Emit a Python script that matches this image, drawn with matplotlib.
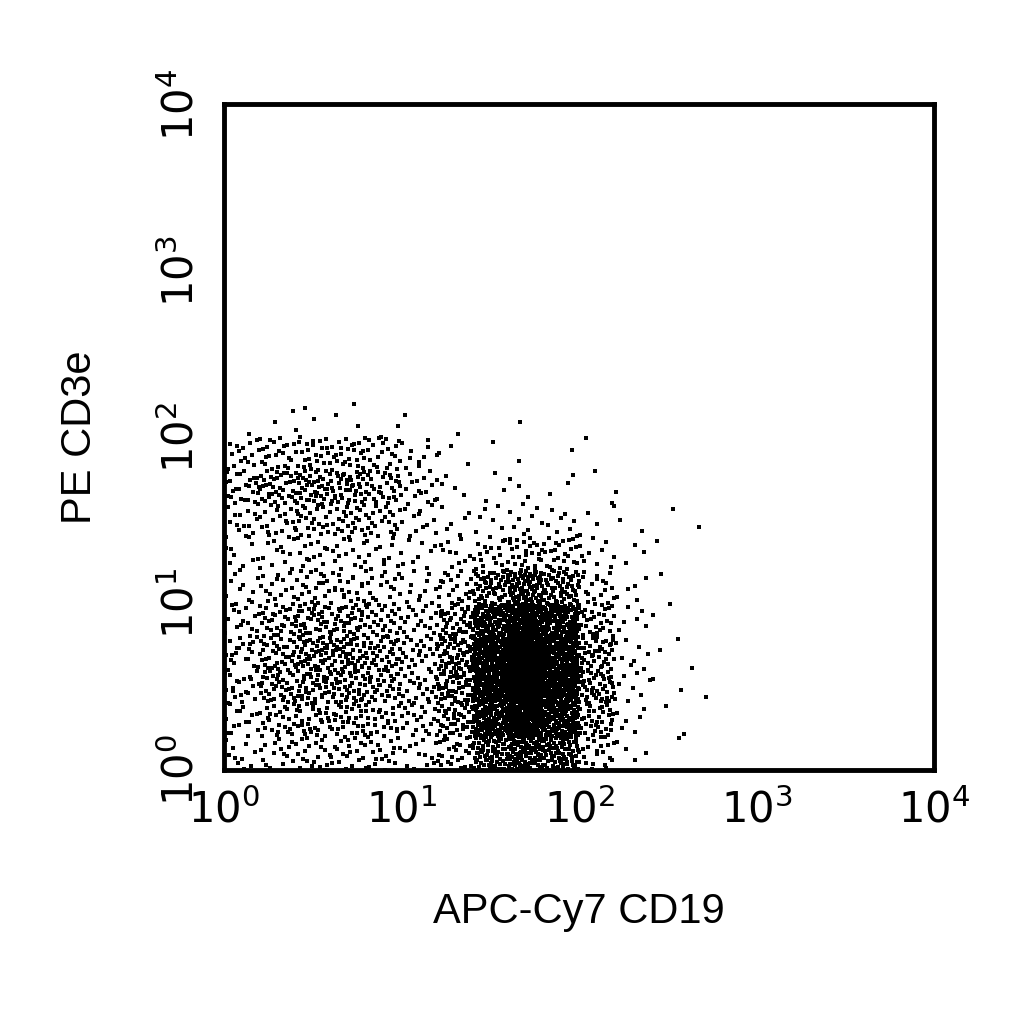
import numpy as np
import matplotlib
matplotlib.use("Agg")
import matplotlib.pyplot as plt

plt.rcParams['font.family'] = ['Liberation Sans', 'DejaVu Sans']

# Event counts per 0.2-decade cell
# rows: log10(PE CD3e) bins from 0.0 upward; columns: log10(APC-Cy7 CD19) bins from 0.0 to 2.8
bin_width = 0.2
counts = [
    [10, 15, 20, 20, 18, 12, 25, 70, 110, 70, 20, 4, 1, 0],
    [15, 25, 30, 30, 25, 18, 40, 120, 200, 130, 35, 6, 2, 0],
    [20, 35, 40, 40, 35, 22, 50, 150, 250, 160, 45, 8, 2, 1],
    [20, 35, 45, 45, 35, 22, 50, 150, 240, 150, 40, 8, 2, 1],
    [15, 30, 35, 35, 28, 18, 40, 110, 170, 110, 30, 6, 2, 0],
    [10, 15, 20, 20, 15, 12, 20, 50, 80, 55, 18, 5, 1, 0],
    [10, 12, 14, 14, 12, 8, 10, 18, 28, 22, 10, 3, 1, 0],
    [15, 20, 25, 25, 20, 12, 6, 6, 9, 8, 4, 2, 1, 1],
    [25, 35, 40, 40, 30, 15, 5, 3, 3, 3, 2, 1, 0, 0],
    [15, 22, 25, 25, 20, 10, 3, 1, 1, 1, 1, 0, 0, 0],
    [1, 2, 3, 3, 2, 1, 1, 0, 1, 0, 0, 0, 0, 0],
]
tick_labels = [r'$10^0$', r'$10^1$', r'$10^2$', r'$10^3$', r'$10^4$']

def halton(i, b):
    f, r = 1.0, 0.0
    while i > 0:
        f /= b
        r += f * (i % b)
        i //= b
    return r

xs, ys = [], []
k = 1
for r, row in enumerate(counts):
    for c, n in enumerate(row):
        for _ in range(n):
            xs.append((c + halton(k, 2)) * bin_width)
            ys.append((r + halton(k, 3)) * bin_width)
            k += 1
xs = 10 ** np.array(xs)
ys = 10 ** np.array(ys)

fig = plt.figure(figsize=(10.24, 10.24), dpi=100)
ax = fig.add_axes([0.219, 0.248, 0.693, 0.650])
ax.scatter(xs, ys, s=5.5, marker='s', color='black', linewidths=0)
ax.set_xscale('log'); ax.set_yscale('log')
ax.set_xlim(1, 1e4); ax.set_ylim(1, 1e4)
ticks = [1, 10, 100, 1000, 10000]
ax.set_xticks(ticks); ax.set_xticklabels(tick_labels, fontsize=30)
ax.set_yticks(ticks); ax.set_yticklabels(tick_labels, fontsize=30, rotation=90, va='center')
ax.minorticks_off()
ax.tick_params(axis='x', length=0, pad=14)
ax.tick_params(axis='y', length=0, pad=16)
for s in ax.spines.values():
    s.set_linewidth(3.5)
ax.set_xlabel('APC-Cy7 CD19', fontsize=30, labelpad=43)
ax.set_ylabel('PE CD3e', fontsize=30, labelpad=43)
fig.savefig('out.png', dpi=100)
